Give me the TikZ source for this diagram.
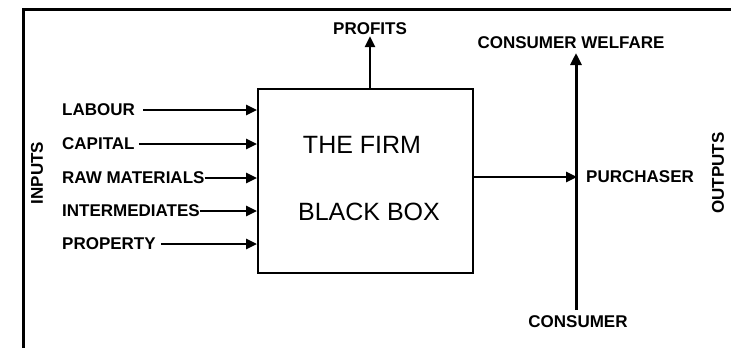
\documentclass[tikz,border=0pt]{standalone}
\usepackage{fontspec}
\setmainfont{Liberation Sans}
\usetikzlibrary{arrows.meta}
\begin{document}
\begin{tikzpicture}[x=1pt,y=-1pt,
  lbl/.style={font=\fontsize{17}{20}\selectfont\bfseries, inner sep=0pt},
  big/.style={font=\fontsize{25}{28}\selectfont, inner sep=0pt},
  arr/.style={line width=2.6pt, -{Triangle[length=11pt,width=10pt]}},
  frame/.style={line width=3.5pt}]
\useasboundingbox (0,0) rectangle (731,348);
% frame
\coordinate (fb) at (23.5,350);
\coordinate (fc) at (23.5,9.5);
\coordinate (fr) at (733,9.5);
\draw[frame] (fb) -- (fc) -- (fr);
% box
\node[draw, line width=2pt, minimum width=215pt, minimum height=184pt, inner sep=0pt] (box) at (365.5,181) {};
\node[big] (firm) at (362,145) {THE FIRM};
\node[big] (bb) at (369,212) {BLACK BOX};
% inputs
\node[lbl, anchor=west] (lab) at (62,110) {LABOUR};
\node[lbl, anchor=west] (cap) at (62,144) {CAPITAL};
\node[lbl, anchor=west] (raw) at (62,178) {RAW MATERIALS};
\node[lbl, anchor=west] (int) at (62,211) {INTERMEDIATES};
\node[lbl, anchor=west] (pro) at (62,244) {PROPERTY};
\draw[arr] ([xshift=8pt]lab.east) -- (lab -| box.west);
\draw[arr] ([xshift=4pt]cap.east) -- (cap -| box.west);
\draw[arr] ([xshift=0pt]raw.east) -- (raw -| box.west);
\draw[arr] ([xshift=0pt]int.east) -- (int -| box.west);
\draw[arr] ([xshift=5pt]pro.east) -- (pro -| box.west);
\node[lbl, rotate=90] (inputs) at (37,173) {INPUTS};
% profits
\node[lbl] (profits) at (370,29) {PROFITS};
\draw[arr] (box.north -| profits) -- ([yshift=-1pt]profits.south);
% consumer line
\node[lbl] (cw) at (571,43) {CONSUMER WELFARE};
\node[lbl] (cons) at (578,322) {CONSUMER};
\coordinate (cl) at (576,310);
\draw[line width=3pt, -{Triangle[length=12pt,width=11pt]}] (cl) -- (576,53);
% purchaser
\node[lbl, anchor=west] (pur) at (586,177) {PURCHASER};
\coordinate (pt) at (577,177);
\draw[arr] (box.east |- pt) -- (pt);
\node[lbl, rotate=90] (outputs) at (718,173) {OUTPUTS};
\end{tikzpicture}
\end{document}
